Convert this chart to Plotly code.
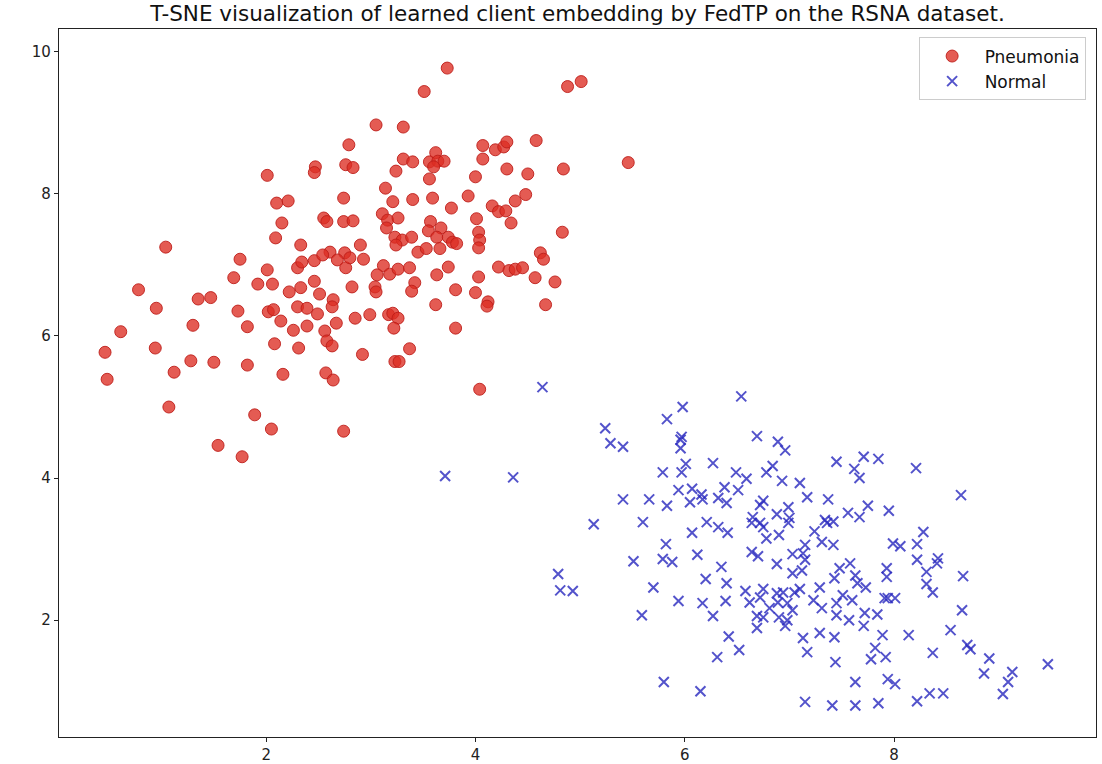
import plotly.graph_objects as go

title_text = "T-SNE visualization of learned client embedding by FedTP on the RSNA dataset."
series_names = ["Pneumonia", "Normal"]
x_ticks = [2, 4, 6, 8]
y_ticks = [2, 4, 6, 8, 10]

pneumonia_x = [2.79, 2.76, 2.83, 2.47, 2.46, 2.01, 2.74, 2.10, 2.21, 2.55, 2.58, 2.74, 2.83, 2.15, 2.09, 2.33, 1.04, 1.75, 2.61, 2.75,
               3.73, 3.51, 4.88, 5.01, 3.05, 3.31, 4.07, 4.19, 4.27, 4.30, 4.58, 5.46, 3.31, 3.40, 3.56, 3.62, 3.64, 3.70, 3.60,
               4.07, 4.30, 4.50, 4.84, 3.24, 3.56, 4.00, 3.14, 3.21, 3.40, 3.59, 3.93, 3.77, 4.16, 4.22, 4.29, 4.38, 4.48, 3.11,
               3.16, 3.26, 3.15, 3.57, 3.55, 3.67, 3.63, 4.01, 4.03, 4.04, 4.03, 4.34, 4.83, 3.23, 3.30, 3.39, 3.24, 3.74, 3.78,
               3.82, 3.45, 3.53, 3.66, 2.90, 2.93, 4.62, 4.65, 3.12, 3.06, 3.18, 3.26, 3.37, 2.82, 3.04, 3.05, 3.42, 3.39, 3.63,
               3.74, 3.81, 4.03, 4.00, 4.12, 4.11, 4.22, 4.32, 4.38, 4.45, 4.57, 4.76, 4.67, 3.62, 2.85, 2.99, 3.17, 3.21, 3.26,
               3.22, 3.81, 2.92, 3.37, 3.23, 3.27, 4.04,
               2.01, 2.30, 2.34, 2.46, 2.54, 2.68, 2.76, 2.80, 1.69, 1.92, 2.06, 2.46, 2.22, 2.33, 2.51, 0.78, 1.35, 1.47, 2.64,
               2.63, 0.95, 1.73, 2.02, 2.07, 2.30, 2.39, 2.49, 2.14, 2.26, 2.39, 2.67, 1.30, 1.82, 2.56, 0.61, 2.58, 2.63, 0.94,
               2.08, 2.31, 0.46, 1.28, 1.50, 1.82, 1.12, 2.16, 2.57, 2.64, 0.48, 1.07, 1.89, 2.05, 2.74, 1.54, 1.77]
pneumonia_y = [8.69, 8.41, 8.37, 8.38, 8.30, 8.26, 7.94, 7.87, 7.90, 7.66, 7.61, 7.61, 7.62, 7.59, 7.38, 7.28, 7.25, 7.08, 7.18, 7.17,
               9.77, 9.44, 9.51, 9.58, 8.97, 8.94, 8.68, 8.62, 8.66, 8.73, 8.75, 8.44, 8.49, 8.45, 8.45, 8.58, 8.46, 8.46, 8.38,
               8.49, 8.35, 8.28, 8.35, 8.32, 8.21, 8.24, 8.08, 7.89, 7.92, 7.94, 7.97, 7.80, 7.83, 7.75, 7.76, 7.90, 7.99, 7.72,
               7.63, 7.66, 7.52, 7.61, 7.48, 7.52, 7.39, 7.65, 7.46, 7.35, 7.24, 7.59, 7.46, 7.39, 7.35, 7.39, 7.28, 7.39, 7.32,
               7.30, 7.18, 7.23, 7.23, 7.28, 7.08, 7.17, 7.08, 6.99, 6.86, 6.87, 6.94, 6.96, 6.69, 6.69, 6.62, 6.75, 6.63, 6.86,
               6.97, 6.65, 6.83, 6.61, 6.48, 6.42, 6.97, 6.92, 6.94, 6.96, 6.82, 6.76, 6.44, 6.44, 6.25, 6.30, 6.30, 6.32, 6.25,
               6.11, 6.11, 5.74, 5.82, 5.64, 5.64, 5.25,
               6.93, 6.96, 7.04, 7.06, 7.14, 7.07, 6.96, 7.10, 6.82, 6.73, 6.73, 6.77, 6.62, 6.68, 6.59, 6.65, 6.52, 6.54, 6.51,
               6.41, 6.39, 6.35, 6.34, 6.37, 6.41, 6.39, 6.31, 6.21, 6.08, 6.14, 6.18, 6.15, 6.13, 6.07, 6.06, 5.93, 5.86, 5.83,
               5.89, 5.83, 5.77, 5.65, 5.63, 5.59, 5.49, 5.46, 5.48, 5.38, 5.39, 5.00, 4.89, 4.69, 4.66, 4.46, 4.30]

normal_x = [3.71, 4.36, 4.64, 6.54, 5.98, 5.83, 5.24, 5.29, 5.41, 5.97, 5.96, 5.96, 6.69, 6.89, 6.96, 6.27, 6.01, 5.97, 5.79, 6.49,
            6.59, 6.84, 6.78, 6.93, 7.10, 5.94, 6.07, 6.16, 6.17, 6.05, 6.32, 6.38, 6.40, 6.51, 5.83, 5.41, 5.66, 6.75, 6.72,
            5.13, 5.60, 6.21, 6.32, 6.41, 6.07, 6.65, 6.72, 6.64, 6.75, 6.88, 6.99, 7.00, 6.99, 6.78, 6.90, 5.82, 7.17, 7.45,
            7.71, 7.85, 7.62, 7.67, 8.21, 8.64, 7.37, 7.75, 7.56, 7.67, 7.95, 7.34, 7.36, 7.42, 7.24, 8.28, 7.15, 7.31, 7.42,
            7.99, 8.06, 8.22, 5.51, 5.79, 5.88, 6.12, 6.64, 6.70, 6.88, 7.03, 7.13, 7.15, 7.12, 7.03, 4.79, 4.81, 4.93, 6.35,
            6.20, 6.40, 5.70, 6.58, 6.75, 6.88, 6.94, 7.05, 7.10, 5.94, 6.17, 6.39, 6.62, 6.72, 6.81, 6.89, 6.98, 7.03, 6.27,
            6.69, 6.75, 6.90, 6.98, 6.96, 5.59, 6.69, 6.42, 6.52, 6.31, 7.13, 7.17, 5.80, 6.15, 7.15, 7.58, 7.48, 7.43, 7.29,
            7.63, 7.65, 7.73, 7.51, 7.60, 7.45, 7.23, 7.31, 7.91, 7.94, 8.01, 7.93, 7.93, 8.22, 8.31, 8.42, 8.41, 8.66, 8.31,
            8.37, 8.65, 7.45, 7.57, 7.72, 7.84, 7.71, 7.29, 7.43, 7.89, 8.14, 8.54, 8.70, 8.73, 7.82, 7.78, 7.92, 8.37, 7.44,
            8.91, 8.86, 9.13, 9.09, 9.47, 7.63, 7.94, 8.01, 9.04, 8.34, 8.47, 8.22, 7.41, 7.63, 7.85]
normal_y = [4.03, 4.01, 5.28, 5.15, 5.00, 4.83, 4.70, 4.49, 4.44, 4.58, 4.54, 4.42, 4.59, 4.51, 4.39, 4.21, 4.20, 4.08, 4.08, 4.08,
            3.99, 4.17, 4.08, 3.96, 3.93, 3.83, 3.85, 3.77, 3.70, 3.66, 3.72, 3.87, 3.65, 3.83, 3.61, 3.70, 3.70, 3.68, 3.62,
            3.35, 3.38, 3.38, 3.31, 3.23, 3.23, 3.45, 3.37, 3.37, 3.31, 3.49, 3.59, 3.44, 3.37, 3.15, 3.20, 3.07, 3.73, 4.23,
            4.30, 4.27, 4.13, 4.00, 4.14, 3.76, 3.70, 3.61, 3.51, 3.45, 3.54, 3.41, 3.37, 3.39, 3.25, 3.24, 3.06, 3.10, 3.06,
            3.08, 3.04, 3.07, 2.83, 2.86, 2.82, 2.92, 2.96, 2.90, 2.79, 2.93, 2.94, 2.85, 2.70, 2.66, 2.65, 2.42, 2.41, 2.75,
            2.58, 2.52, 2.46, 2.41, 2.44, 2.38, 2.39, 2.39, 2.44, 2.27, 2.24, 2.27, 2.25, 2.32, 2.17, 2.25, 2.24, 2.14, 2.06,
            2.06, 2.04, 2.04, 2.00, 1.92, 2.07, 1.89, 1.77, 1.58, 1.48, 1.75, 1.55, 1.13, 1.00, 0.85, 2.80, 2.73, 2.59, 2.46,
            2.63, 2.52, 2.46, 2.35, 2.28, 2.24, 2.28, 2.17, 2.31, 2.31, 2.31, 2.73, 2.61, 2.85, 2.68, 2.87, 2.80, 2.62, 2.51,
            2.39, 2.14, 2.07, 2.00, 2.10, 2.08, 1.92, 1.82, 1.76, 1.79, 1.79, 1.86, 1.65, 1.59, 1.61, 1.45, 1.48, 1.54, 1.41,
            1.46, 1.25, 1.27, 1.13, 1.38, 1.13, 1.17, 1.10, 0.96, 0.97, 0.97, 0.86, 0.80, 0.80, 0.83]

FONT = "DejaVu Sans, Verdana, sans-serif"

fig = go.Figure()
fig.add_trace(go.Scatter(
    x=pneumonia_x, y=pneumonia_y, mode="markers", name=series_names[0],
    marker=dict(symbol="circle", size=12, color="rgba(220,45,35,0.78)",
                line=dict(color="rgba(190,30,25,0.9)", width=1)),
))
fig.add_trace(go.Scatter(
    x=normal_x, y=normal_y, mode="markers", name=series_names[1],
    marker=dict(symbol="x-thin", size=10, color="rgba(40,40,190,0.8)",
                line=dict(color="rgba(40,40,190,0.8)", width=2)),
))

axis_common = dict(showline=True, mirror=True, linecolor="#222", linewidth=1.3,
                   ticks="outside", ticklen=4, tickwidth=1.2, tickcolor="#222",
                   showgrid=False, zeroline=False, automargin=False,
                   tickfont=dict(family=FONT, size=15, color="#222"))

fig.update_layout(
    width=1102, height=764,
    margin=dict(l=59, r=6, t=29, b=27),
    paper_bgcolor="white", plot_bgcolor="white",
    title=dict(text=title_text, x=0.5, xref="paper", xanchor="center",
               y=1 - 13 / 764, yanchor="middle", yref="container",
               font=dict(family=FONT, size=21.5, color="#111")),
    xaxis=dict(range=[0.02, 9.93], tickvals=x_ticks, **axis_common),
    yaxis=dict(range=[0.356, 10.32], tickvals=y_ticks, **axis_common),
    legend=dict(x=0.99, y=0.988, xanchor="right", yanchor="top",
                bgcolor="rgba(255,255,255,0.85)", bordercolor="#cccccc", borderwidth=1,
                font=dict(family=FONT, size=17, color="#111"), itemwidth=55,
                tracegroupgap=0),
    showlegend=True,
)

fig.write_html("out.html", config={"displayModeBar": False},
               post_script="document.body.style.margin='0';")
